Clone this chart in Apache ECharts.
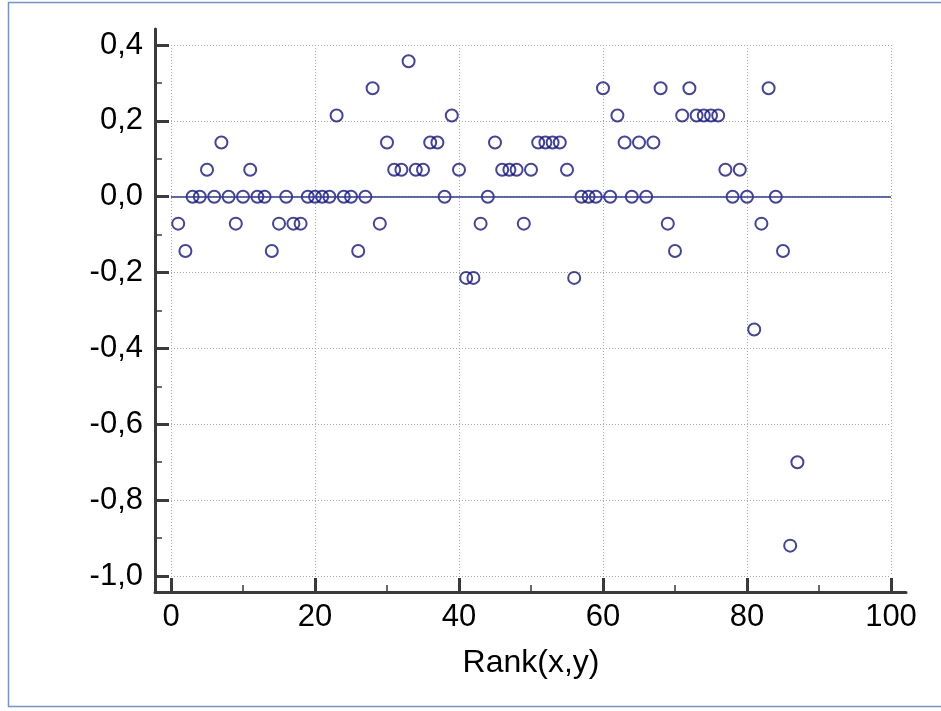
<!DOCTYPE html>
<html>
<head>
<meta charset="utf-8">
<script src="https://cdn.jsdelivr.net/npm/echarts@6/dist/echarts.min.js"></script>
<style>
  html, body { margin: 0; padding: 0; background: #fff; }
  #chart { width: 941px; height: 711px; }
</style>
</head>
<body>
<div id="chart"></div>
<script>
// ranks (x) and values (y)
const ranks = [
  1, 2, 3, 4, 5, 6, 7, 8, 9, 10, 11, 12, 13, 14, 15, 16, 17, 18, 19, 20,
  21, 22, 23, 24, 25, 26, 27, 28, 29, 30, 31, 32, 33, 34, 35, 36, 37, 38, 39, 40,
  41, 42, 43, 44, 45, 46, 47, 48, 49, 50, 51, 52, 53, 54, 55, 56, 57, 58, 59, 60,
  61, 62, 63, 64, 65, 66, 67, 68, 69, 70, 71, 72, 73, 74, 75, 76, 77, 78, 79, 80,
  81, 82, 83, 84, 85, 86, 87
]
const values = [
  -0.071, -0.143, 0, 0, 0.071, 0, 0.143, 0, -0.071, 0,
  0.071, 0, 0, -0.143, -0.071, 0, -0.071, -0.071, 0, 0,
  0, 0, 0.214, 0, 0, -0.143, 0, 0.286, -0.071, 0.143,
  0.071, 0.071, 0.357, 0.071, 0.071, 0.143, 0.143, 0, 0.214, 0.071,
  -0.214, -0.214, -0.071, 0, 0.143, 0.071, 0.071, 0.071, -0.071, 0.071,
  0.143, 0.143, 0.143, 0.143, 0.071, -0.214, 0, 0, 0, 0.286,
  0, 0.214, 0.143, 0, 0.143, 0, 0.143, 0.286, -0.071, -0.143,
  0.214, 0.286, 0.214, 0.214, 0.214, 0.214, 0.071, 0, 0.071, 0,
  -0.35, -0.071, 0.286, 0, -0.143, -0.92, -0.70
]
const xTicks = { min: 0, max: 100, step: 20 }
const yTicks = { min: -1.0, max: 0.4, step: 0.2 }
const xName = 'Rank(x,y)'

const font = 'Liberation Sans, Arial, sans-serif'
const axisColor = '#3a3a3a'
const gridDots = { color: '#a8a8a8', width: 1, type: [1, 2] }

const points = ranks.map((r, i) => [r, values[i]])

function commaLabel(v) {
  if (Math.abs(v) < 1e-9) v = 0
  return v.toFixed(1).replace('.', ',')
}

const chart = echarts.init(document.getElementById('chart'))

chart.setOption({
  animation: false,
  textStyle: { fontFamily: font },
  graphic: [{
    type: 'rect',
    shape: { x: 8.5, y: 2.5, width: 960, height: 704 },
    style: { fill: 'none', stroke: '#6f93d6', lineWidth: 1.5 },
    silent: true,
  }],
  grid: [
    { left: 171, right: 50, top: 45, bottom: 135 },
    // wider frame only used to draw the long axis lines
    { left: 155, right: 35, top: 29, bottom: 119 },
  ],
  xAxis: [{
    type: 'value',
    gridIndex: 0,
    min: xTicks.min,
    max: xTicks.max,
    interval: xTicks.step,
    offset: 16,
    axisLine: { show: false, onZero: false },
    axisTick: { show: true, inside: true, length: 14, lineStyle: { color: axisColor, width: 3 } },
    minorTick: { show: true, splitNumber: 2, length: 7, lineStyle: { color: axisColor, width: 1.5 } },
    splitLine: { show: true, lineStyle: gridDots },
    axisLabel: { fontSize: 31, color: '#000', margin: 10, fontFamily: font },
    name: xName,
    nameLocation: 'middle',
    nameGap: 55,
    nameTextStyle: { fontSize: 32, color: '#000', fontFamily: font },
  }, {
    type: 'value',
    gridIndex: 1,
    min: 0,
    max: 1,
    axisLine: { show: true, onZero: false, lineStyle: { color: axisColor, width: 3 } },
    axisTick: { show: false },
    axisLabel: { show: false },
    splitLine: { show: false },
  }],
  yAxis: [{
    type: 'value',
    gridIndex: 0,
    min: yTicks.min,
    max: yTicks.max,
    interval: yTicks.step,
    offset: 16,
    axisLine: { show: false, onZero: false },
    axisTick: { show: true, inside: true, length: 14, lineStyle: { color: axisColor, width: 3 } },
    minorTick: { show: true, splitNumber: 2, length: 7, lineStyle: { color: axisColor, width: 1.5 } },
    splitLine: { show: true, lineStyle: gridDots },
    axisLabel: { fontSize: 31, color: '#000', margin: 12, fontFamily: font, formatter: commaLabel },
  }, {
    type: 'value',
    gridIndex: 1,
    min: 0,
    max: 1,
    axisLine: { show: true, onZero: false, lineStyle: { color: axisColor, width: 3 } },
    axisTick: { show: false },
    axisLabel: { show: false },
    splitLine: { show: false },
  }],
  series: [{
    type: 'scatter',
    xAxisIndex: 0,
    yAxisIndex: 0,
    data: points,
    symbol: 'circle',
    symbolSize: 12,
    itemStyle: { color: 'rgba(0,0,0,0)', borderColor: '#14148a', borderWidth: 2 },
    markLine: {
      silent: true,
      symbol: 'none',
      label: { show: false },
      lineStyle: { color: '#2d3a9c', width: 1.6, type: 'solid' },
      data: [{ yAxis: 0 }],
    },
  }],
})
</script>
</body>
</html>
